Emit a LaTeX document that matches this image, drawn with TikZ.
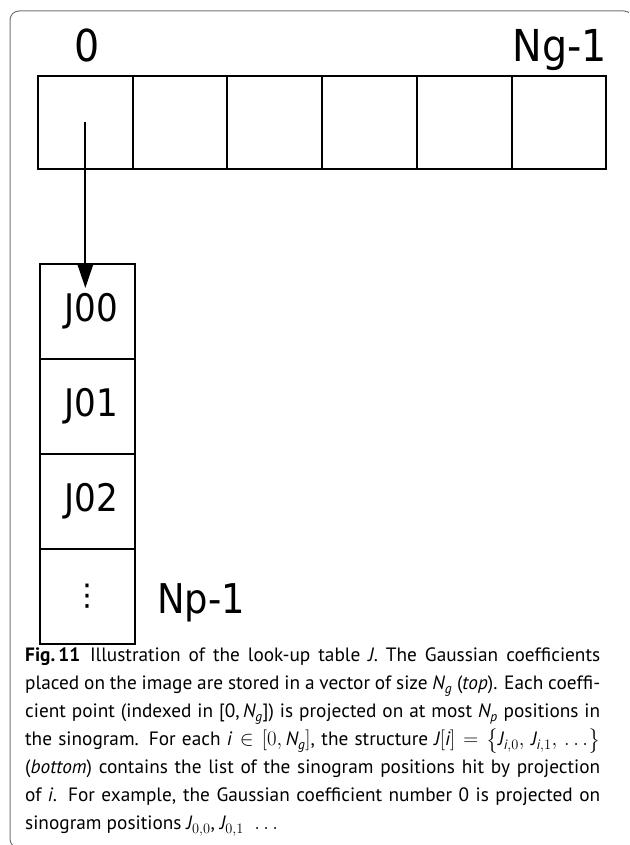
\documentclass[tikz,border=0pt]{standalone}
\usepackage{amsmath}
\usepackage{fontspec}
\setmainfont{PT Sans}
\newfontfamily\labfont[FakeStretch=0.9]{DejaVu Sans}
\newfontfamily\symfont{DejaVu Sans}
\usetikzlibrary{arrows.meta}
\newcommand{\mI}[1]{\textit{#1}}
\begin{document}
\begin{tikzpicture}[x=1pt,y=-1pt,
  cell/.style={draw,line width=2pt,minimum width=94.7pt,minimum height=93pt,inner sep=0pt,outer sep=0pt},
  vcell/.style={draw,line width=2pt,minimum width=95pt,minimum height=95pt,inner sep=0pt,outer sep=0pt,font=\labfont\fontsize{38}{40}\selectfont},
  biglab/.style={font=\labfont\fontsize{44}{48}\selectfont,inner sep=0pt},
  ptr/.style={line width=2pt,-{Triangle[length=23pt,width=15pt]}},
  frame/.style={black!55,line width=1pt,rounded corners=9pt}]
\useasboundingbox (0,0) rectangle (629,845);
\begin{scope}
  \clip (0,0) rectangle (629,845);
  \draw[frame] (10,11) rectangle (633,848);
\end{scope}
% top vector
\foreach \i in {0,...,5}
  \node[cell] (g\i) at ({85.35+94.7*\i},122.5) {};
\node[biglab,anchor=base] (l0) at (87,62) {0};
\node[biglab,anchor=base east] (lN) at (607,62) {Ng-1};
% column
\node[vcell] (c0) at (87.5,311.5) {\hspace*{7pt}J00};
\node[vcell] (c1) at (87.5,406.5) {\hspace*{7pt}J01};
\node[vcell] (c2) at (87.5,501.5) {\hspace*{7pt}J02};
\node[vcell] (c3) at (87.5,596.5) {{\symfont\fontsize{30}{30}\selectfont ⋮}};
\node[font=\labfont\fontsize{41}{44}\selectfont,inner sep=0pt,anchor=base west] (lp) at (157,613) {Np-1};
% arrow
\coordinate (tip) at (85.35,288);
\draw[ptr] (g0.center) -- (tip);
% caption
\node[anchor=north west,inner sep=0pt,text width=575pt,align=justify,font=\fontsize{19.3}{28}\selectfont] (cap) at (25,648) {%
\textbf{Fig.\,11}\enspace Illustration of the look-up table \mI{J}. The Gaussian coefficients\linebreak
placed on the image are stored in a vector of size $\mI{N}_{\mI{g}}$ (\mI{top}). Each coeffi-\linebreak
cient point (indexed in [0,\,$\mI{N}_{\mI{g}}$]) is projected on at most $\mI{N}_{\mI{p}}$ positions in\linebreak
the sinogram. For each $\mI{i}\in[0,\mI{N}_{\mI{g}}]$, the structure $\mI{J}[\mI{i}]=\bigl\{\mI{J}_{\mI{i},0},\,\mI{J}_{\mI{i},1},\,\ldots\bigr\}$\linebreak
(\mI{bottom}) contains the list of the sinogram positions hit by projection\linebreak
of \mI{i}. For example, the Gaussian coefficient number 0 is projected on\linebreak
sinogram positions $\mI{J}_{0,0}$, $\mI{J}_{0,1}$ \ $\ldots$};
\end{tikzpicture}
\end{document}
